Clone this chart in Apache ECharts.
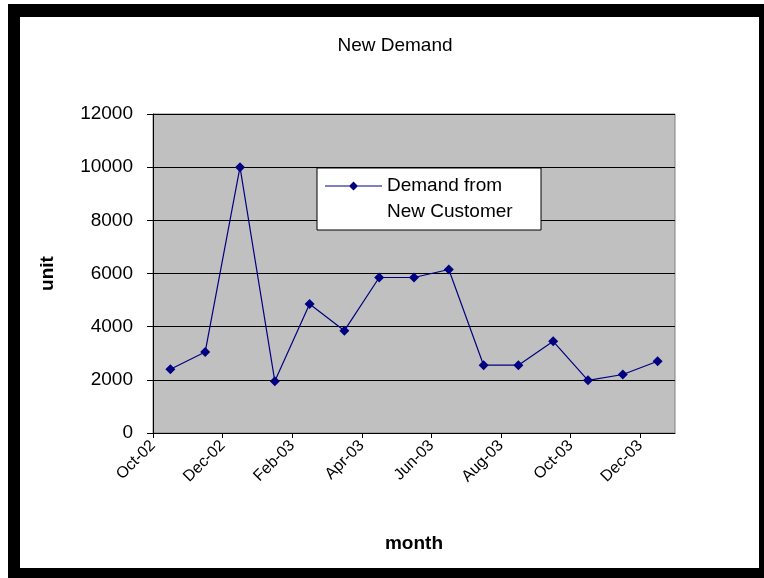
<!DOCTYPE html>
<html>
<head>
<meta charset="utf-8">
<script src="https://cdn.jsdelivr.net/npm/echarts@6/dist/echarts.min.js"></script>
<style>
html,body{margin:0;padding:0;background:#fff;}
#outer{position:absolute;left:8px;top:4px;width:756px;height:574px;background:#000;}
#inner{position:absolute;left:20px;top:17px;width:739px;height:551px;background:#fff;}
#chart{position:absolute;left:0;top:0;width:764px;height:578px;}
</style>
</head>
<body>
<div id="outer"></div>
<div id="inner"></div>
<div id="chart"></div>
<script>
const months = ['Oct-02','Nov-02','Dec-02','Jan-03','Feb-03','Mar-03','Apr-03','May-03','Jun-03','Jul-03','Aug-03','Sep-03','Oct-03','Nov-03','Dec-03'];
const demand = [2400, 3050, 10000, 1950, 4850, 3850, 5850, 5850, 6150, 2550, 2550, 3450, 1980, 2200, 2700];
const yTicks = [0, 2000, 4000, 6000, 8000, 10000, 12000];
const seriesName = 'Demand from New Customer';

const chart = echarts.init(document.getElementById('chart'), null, {renderer: 'canvas'});
const font = 'Liberation Sans, Arial, sans-serif';
// each month occupies one unit on x; point sits mid-unit, labels at unit starts
const points = demand.map((v, i) => [i + 0.5, v]);

chart.setOption({
  backgroundColor: 'transparent',
  animation: false,
  title: {
    text: 'New Demand',
    left: 390, top: 31, textAlign: 'center',
    textStyle: {fontFamily: font, fontSize: 19, fontWeight: 'normal', color: '#000'}
  },
  legend: {
    left: 317, top: 168,
    orient: 'vertical',
    backgroundColor: '#fff',
    borderColor: '#000', borderWidth: 1,
    padding: [5, 8, 5, 8],
    itemWidth: 57, itemHeight: 52,
    itemGap: 0,
    icon: 'path://M0 0 L0.2 0 L0.2 0.2 Z M0 12.5 L57 12.5 L57 13.5 L0 13.5 Z M28.5 8.5 L33 13 L28.5 17.5 L24 13 Z M0 51.8 L0.2 51.8 L0.2 52 Z',
    formatter: () => 'Demand from\nNew Customer',
    textStyle: {fontFamily: font, fontSize: 19, color: '#000', lineHeight: 26, width: 146, overflow: 'none'},
    data: [seriesName]
  },
  grid: {
    left: 153, top: 114, right: 89, bottom: 145,
    show: true, backgroundColor: '#c0c0c0', borderColor: '#808080', borderWidth: 1
  },
  xAxis: {
    type: 'value',
    min: 0, max: months.length, interval: 2,
    name: 'month', nameLocation: 'middle', nameGap: 101,
    nameTextStyle: {fontFamily: font, fontSize: 19, fontWeight: 'bold', color: '#000'},
    axisLine: {show: true, lineStyle: {color: '#000', width: 1}},
    axisTick: {show: true, length: 5, inside: false, lineStyle: {color: '#000'}},
    splitLine: {show: false},
    axisLabel: {
      rotate: 45, margin: 10, showMaxLabel: false,
      fontFamily: font, fontSize: 16, color: '#000',
      formatter: v => (v < months.length ? months[v] : '')
    }
  },
  yAxis: {
    type: 'value',
    min: yTicks[0], max: yTicks[yTicks.length - 1], interval: yTicks[1] - yTicks[0],
    name: 'unit', nameLocation: 'middle', nameGap: 96, nameRotate: 90,
    nameTextStyle: {fontFamily: font, fontSize: 19, fontWeight: 'bold', color: '#000'},
    axisLine: {show: true, lineStyle: {color: '#000', width: 1}},
    axisTick: {show: true, length: 6, lineStyle: {color: '#000'}},
    splitLine: {show: true, lineStyle: {color: '#000', width: 1}},
    axisLabel: {margin: 20, fontFamily: font, fontSize: 19, color: '#000', formatter: v => String(v)}
  },
  series: [{
    name: seriesName,
    type: 'line',
    data: points,
    symbol: 'diamond', symbolSize: 10,
    lineStyle: {color: '#000080', width: 1.2},
    itemStyle: {color: '#000080'},
    emphasis: {disabled: true}
  }]
});
</script>
</body>
</html>
